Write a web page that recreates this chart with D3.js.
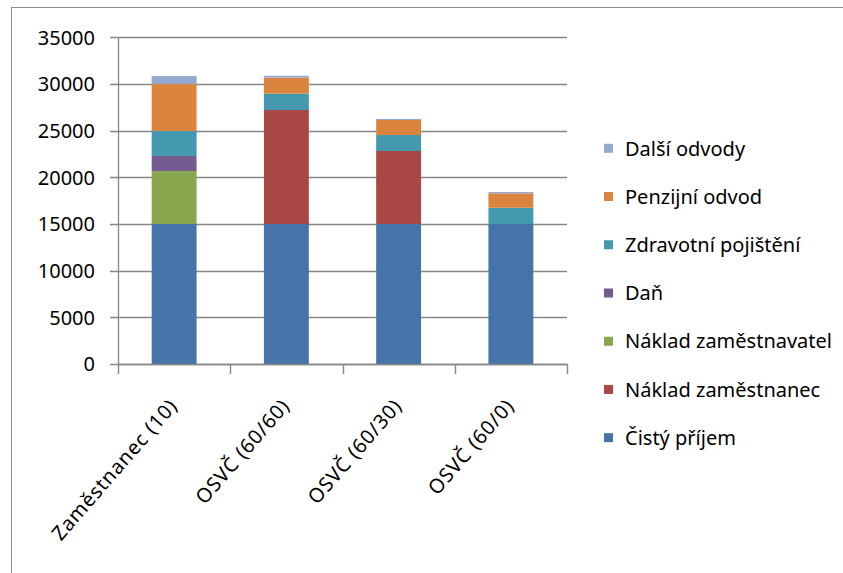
<!DOCTYPE html>
<html>
<head>
<meta charset="utf-8">
<script src="https://cdn.jsdelivr.net/npm/d3@7"></script>
<style>
  html, body { margin: 0; padding: 0; background: #fff; }
  svg { display: block; }
  text { font-family: "Noto Sans", "Open Sans", sans-serif; fill: #000; }
</style>
</head>
<body>
<svg id="chart" width="843" height="573"></svg>
<script>
// Categories along the x axis
const categories = ["Zaměstnanec (10)", "OSVČ (60/60)", "OSVČ (60/30)", "OSVČ (60/0)"];

// Series, listed bottom of the stack first
const seriesNames = [
  "Čistý příjem",
  "Náklad zaměstnanec",
  "Náklad zaměstnavatel",
  "Daň",
  "Zdravotní pojištění",
  "Penzijní odvod",
  "Další odvody"
];
const cistyPrijem          = [15000, 15000, 15000, 15000];
const nakladZamestnanec    = [0, 12210, 7820, 0];
const nakladZamestnavatel  = [5680, 0, 0, 0];
const dan                  = [1600, 0, 0, 0];
const zdravotniPojisteni   = [2680, 1750, 1710, 1745];
const penzijniOdvod        = [5040, 1710, 1610, 1540];
const dalsiOdvody          = [850, 210, 110, 140];

const yTicks = [0, 5000, 10000, 15000, 20000, 25000, 30000, 35000];

const colors = ["#4673a8", "#aa4744", "#89a54e", "#735a8f", "#4299b0", "#db843d", "#93a9d0"];

const seriesValues = [cistyPrijem, nakladZamestnanec, nakladZamestnavatel, dan,
                      zdravotniPojisteni, penzijniOdvod, dalsiOdvody];

const rows = categories.map((c, i) => {
  const r = { category: c };
  seriesNames.forEach((s, k) => { r[s] = seriesValues[k][i]; });
  return r;
});

const svg = d3.select("#chart");

// outer frame
svg.append("rect")
  .attr("x", 11.5).attr("y", 7.5)
  .attr("width", 860).attr("height", 600)
  .attr("fill", "none").attr("stroke", "#8c8c8c").attr("stroke-width", 1);

const plot = { left: 118, right: 567, top: 37.3, bottom: 364 };

const x = d3.scaleBand()
  .domain(categories)
  .range([plot.left, plot.right])
  .paddingInner(0.6).paddingOuter(0.3);

const band = d3.scaleBand().domain(categories).range([plot.left, plot.right]);

const y = d3.scaleLinear().domain([0, 35000]).range([plot.bottom, plot.top]);

const gridColor = "#868686";

// horizontal gridlines
svg.append("g")
  .selectAll("line")
  .data(yTicks)
  .join("line")
  .attr("x1", plot.left - 8).attr("x2", plot.right)
  .attr("y1", d => Math.round(y(d)) + 0.5).attr("y2", d => Math.round(y(d)) + 0.5)
  .attr("stroke", gridColor).attr("stroke-width", 1.3);

// y axis labels
svg.append("g")
  .selectAll("text")
  .data(yTicks)
  .join("text")
  .attr("x", 95)
  .attr("y", d => y(d))
  .attr("dy", "0.36em")
  .attr("text-anchor", "end")
  .attr("font-size", 20)
  .text(d => d);

// stacked bars
const stack = d3.stack().keys(seriesNames)(rows);

svg.append("g")
  .selectAll("g")
  .data(stack)
  .join("g")
  .attr("fill", (d, i) => colors[i])
  .selectAll("rect")
  .data(d => d.filter(p => p[1] - p[0] > 0))
  .join("rect")
  .attr("x", d => x(d.data.category))
  .attr("width", x.bandwidth())
  .attr("y", d => y(d[1]))
  .attr("height", d => y(d[0]) - y(d[1]));

// y axis line
svg.append("line")
  .attr("x1", plot.left + 0.5).attr("x2", plot.left + 0.5)
  .attr("y1", plot.top).attr("y2", plot.bottom)
  .attr("stroke", gridColor).attr("stroke-width", 1.3);

// x axis line and ticks
svg.append("line")
  .attr("x1", plot.left).attr("x2", plot.right)
  .attr("y1", plot.bottom + 0.5).attr("y2", plot.bottom + 0.5)
  .attr("stroke", gridColor).attr("stroke-width", 1.3);

const xTickPos = categories.map(c => band(c)).concat([plot.right]);
svg.append("g")
  .selectAll("line")
  .data(xTickPos)
  .join("line")
  .attr("x1", d => Math.round(d) + 0.5).attr("x2", d => Math.round(d) + 0.5)
  .attr("y1", plot.bottom).attr("y2", plot.bottom + 10)
  .attr("stroke", gridColor).attr("stroke-width", 1.4);

// rotated category labels
svg.append("g")
  .selectAll("text")
  .data(categories)
  .join("text")
  .attr("text-anchor", "end")
  .attr("font-size", 20)
  .attr("letter-spacing", 0.8)
  .attr("transform", d => `translate(${band(d) + band.bandwidth() / 2 - 1},${plot.bottom + 38}) rotate(-49)`)
  .attr("dy", "0.35em")
  .text(d => d);

// legend, top entry is the top of the stack
const legendItems = seriesNames.map((s, i) => ({ name: s, color: colors[i] })).reverse();
const legend = svg.append("g")
  .selectAll("g")
  .data(legendItems)
  .join("g")
  .attr("transform", (d, i) => `translate(604,${148.3 + i * 48.23})`);

legend.append("rect")
  .attr("x", 0).attr("y", -4.5)
  .attr("width", 9).attr("height", 9)
  .attr("fill", d => d.color);

legend.append("text")
  .attr("x", 21)
  .attr("dy", "0.36em")
  .attr("font-size", 20)
  .text(d => d.name);
</script>
</body>
</html>
